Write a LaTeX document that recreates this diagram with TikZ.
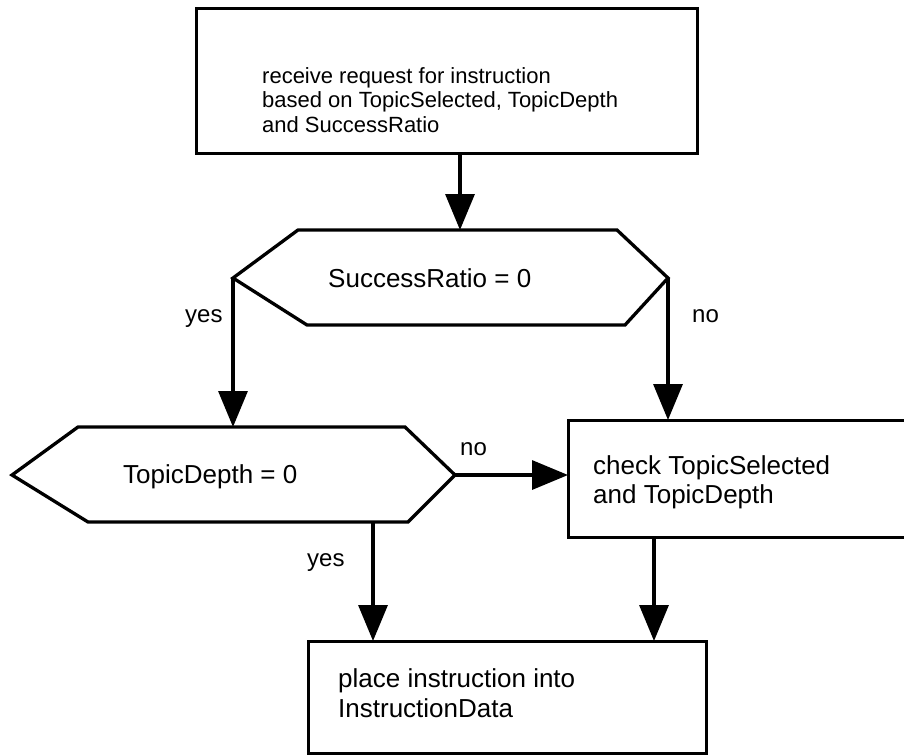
\documentclass[tikz,border=0pt]{standalone}
\usepackage{fontspec}
\setmainfont{Liberation Sans}
\usetikzlibrary{arrows.meta}
\newcommand\boxlines[1]{\begin{tabular}[t]{@{}l@{}}#1\end{tabular}}
\begin{document}
\begin{tikzpicture}[x=1pt,y=-1pt,
  line join=miter,
  flow/.style={-{Triangle[length=36pt,width=29pt]}, line width=3.3pt},
  box/.style={draw, line width=3pt},
  decision/.style={draw, line width=3.3pt},
  txt/.style={inner sep=0pt, anchor=base west, font=\fontsize{26}{29}\selectfont},
  lbl/.style={inner sep=0pt, anchor=base west, font=\fontsize{24}{28}\selectfont}
]
\useasboundingbox (0,0) rectangle (904,755);
\clip (0,0) rectangle (904,755);

% process boxes
\draw[box] (196,8) coordinate (reqNW) rectangle (697,153) coordinate (reqSE);
\draw[box] (568,420) coordinate (chkNW) rectangle (910,537) coordinate (chkSE);
\draw[box] (308,641) coordinate (putNW) rectangle (706,753) coordinate (putSE);

\node[txt, font=\fontsize{22}{24.5}\selectfont] (reqtext) at (262,83)
  {\boxlines{receive request for instruction\\based on TopicSelected, TopicDepth\\and SuccessRatio}};
\node[txt] (chktext) at (593,474) {\boxlines{check TopicSelected\\and TopicDepth}};
\node[txt, font=\fontsize{26}{30}\selectfont] (puttext) at (338,687) {\boxlines{place instruction into\\InstructionData}};

% decision hexagons
\coordinate (sL) at (233,278);
\coordinate (sTL) at (298,230);
\coordinate (sTR) at (617,230);
\coordinate (sR) at (668,278);
\coordinate (sBR) at (625,325);
\coordinate (sBL) at (307,325);
\draw[decision] (sL) -- (sTL) -- (sTR) -- (sR) -- (sBR) -- (sBL) -- cycle;
\node[txt] (stext) at (328,287) {SuccessRatio = 0};

\coordinate (dL) at (12,475);
\coordinate (dTL) at (78,427);
\coordinate (dTR) at (405,427);
\coordinate (dR) at (455,475);
\coordinate (dBR) at (408,522);
\coordinate (dBL) at (88,522);
\draw[decision] (dL) -- (dTL) -- (dTR) -- (dR) -- (dBR) -- (dBL) -- cycle;
\node[txt] (dtext) at (123,483) {TopicDepth = 0};

% connection points on the shapes
\coordinate (sIn) at (460,230);
\coordinate (dIn) at (233,427);
\coordinate (chkIn) at (668,420);
\coordinate (chkL) at (568,475);
\coordinate (dOut) at (373,522);
\coordinate (chkOut) at (654,537);
\coordinate (putIn1) at (373,641);
\coordinate (putIn2) at (654,641);

% connectors
\draw[flow] (sIn |- reqSE) -- (sIn);
\draw[flow] (sL) -- (dIn);
\draw[flow] (sR) -- (chkIn);
\draw[flow] (dR) -- (chkL);
\draw[flow] (dOut) -- (putIn1);
\draw[flow] (chkOut) -- (putIn2);

% branch labels
\node[lbl] (yes1) at (185,322) {yes};
\node[lbl] (no1) at (692,322) {no};
\node[lbl] (no2) at (460,455) {no};
\node[lbl] (yes2) at (307,566) {yes};
\end{tikzpicture}
\end{document}
